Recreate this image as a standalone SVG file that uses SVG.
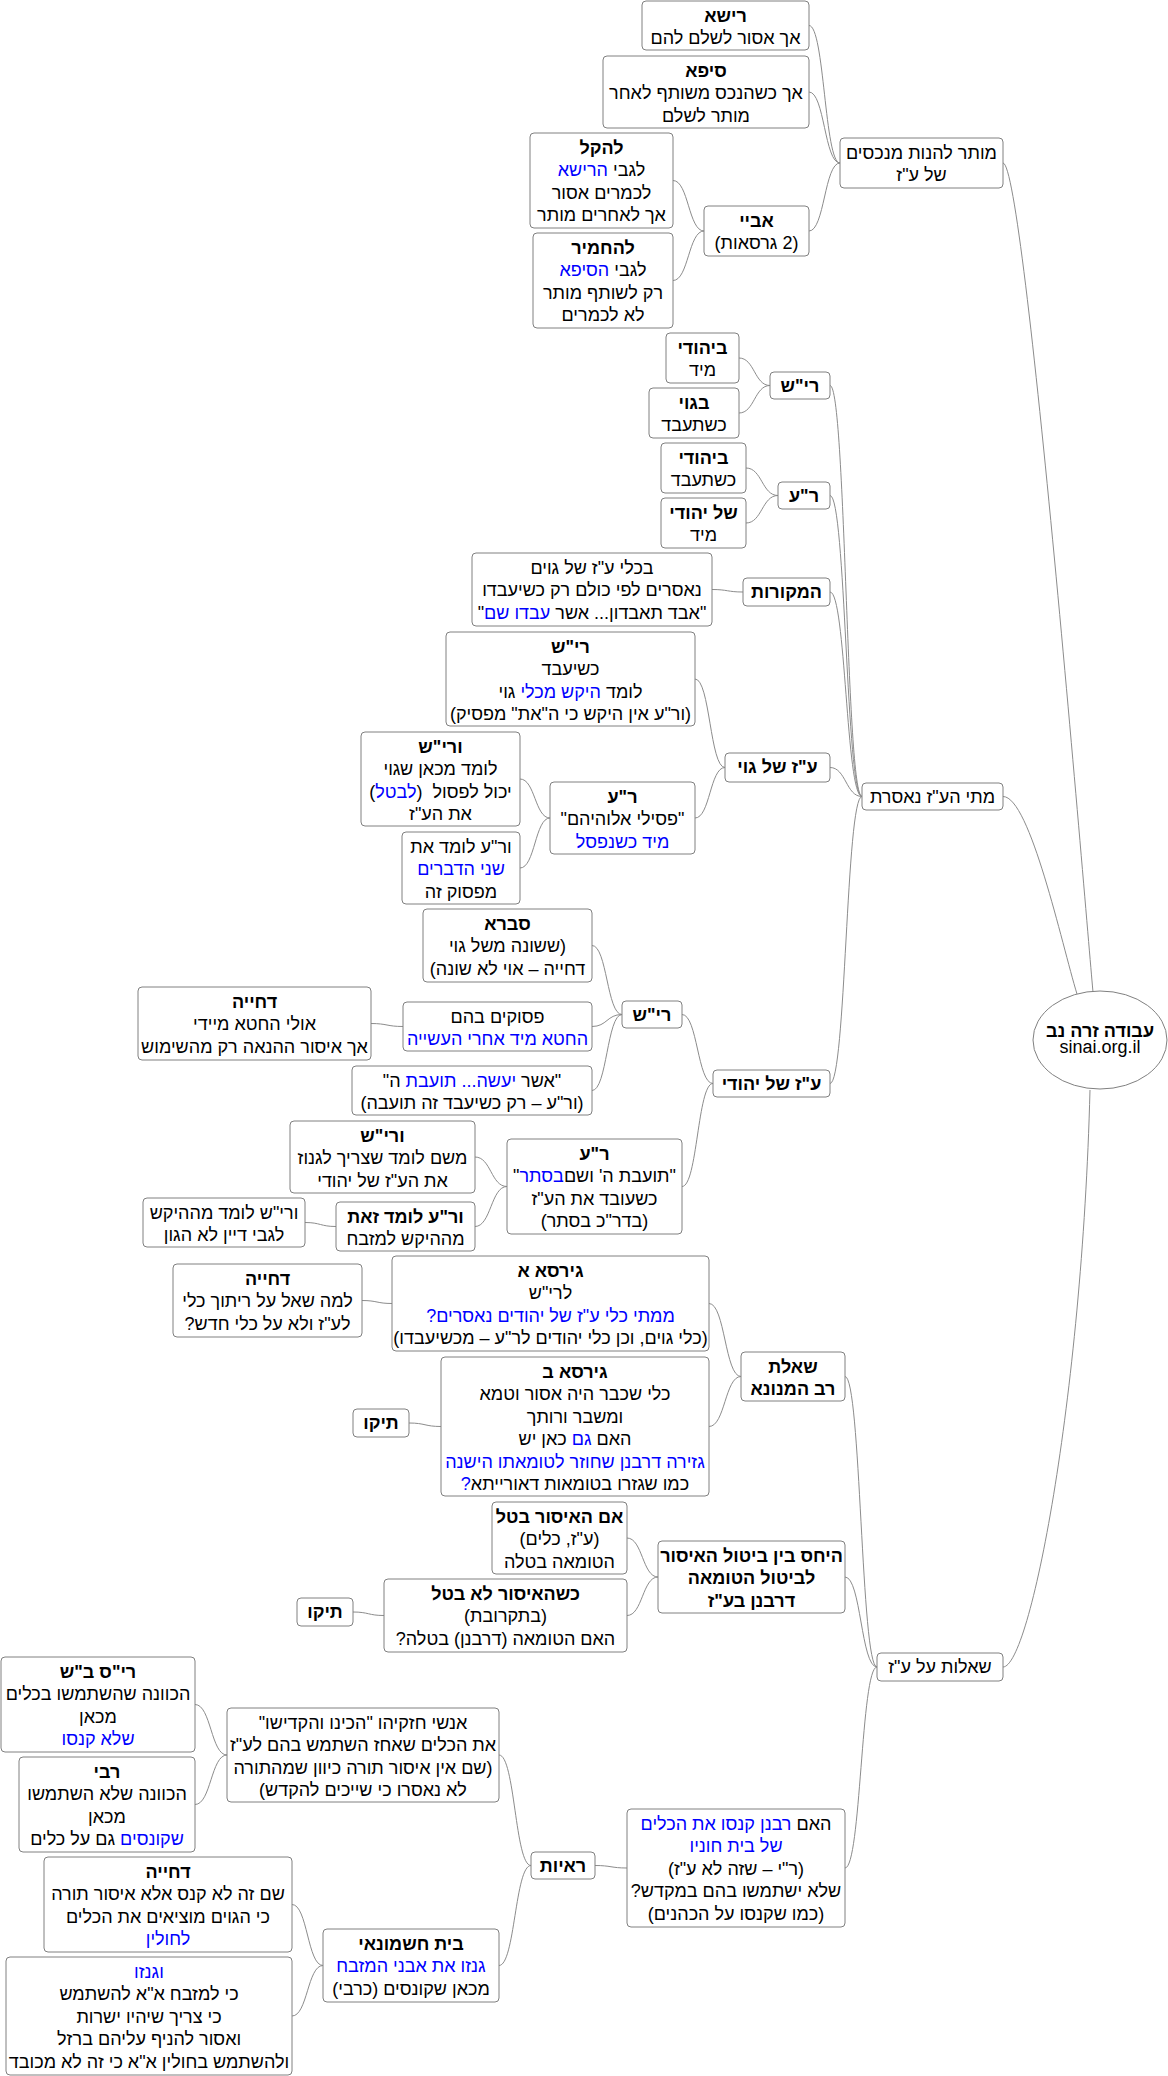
<svg xmlns="http://www.w3.org/2000/svg" width="1168" height="2076" viewBox="0 0 1168 2076">
<style>
.nd rect{fill:#fff;stroke:#808080;stroke-width:1}
.nd ellipse{fill:#fff;stroke:#808080;stroke-width:1}
text{font-family:"Liberation Sans",Arial,"DejaVu Sans",sans-serif;font-size:18px;fill:#000;direction:rtl;text-anchor:middle}
.b{font-weight:bold}
.bl{fill:#0000ff}
.cn path{fill:none;stroke:#8c8c8c;stroke-width:1}
</style>
<rect x="0" y="0" width="1168" height="2076" fill="#fff"/>
<g class="cn" id="connectors">
<path d="M1003,163 C1025,163 1088,940 1093,992"/>
<path d="M1003,796.5 C1030,796.5 1062,945 1077,994"/>
<path d="M1003,1667 C1030,1667 1082,1400 1090,1090"/>
<path d="M809,25.5 C824.5,25.5 824.5,163 840,163"/>
<path d="M809,92 C824.5,92 824.5,163 840,163"/>
<path d="M809,231 C824.5,231 824.5,163 840,163"/>
<path d="M673,180.5 C688.5,180.5 688.5,231 704,231"/>
<path d="M673,280.5 C688.5,280.5 688.5,231 704,231"/>
<path d="M830,385.5 C846,385.5 846,796.5 862,796.5"/>
<path d="M830,495.5 C846,495.5 846,796.5 862,796.5"/>
<path d="M830,592 C846,592 846,796.5 862,796.5"/>
<path d="M830,767.5 C846,767.5 846,796.5 862,796.5"/>
<path d="M830,1083.5 C846,1083.5 846,796.5 862,796.5"/>
<path d="M739,358 C754.5,358 754.5,385.5 770,385.5"/>
<path d="M739,413 C754.5,413 754.5,385.5 770,385.5"/>
<path d="M746,468 C762,468 762,495.5 778,495.5"/>
<path d="M746,523 C762,523 762,495.5 778,495.5"/>
<path d="M712,589.5 C727.5,589.5 727.5,592 743,592"/>
<path d="M695,679 C710,679 710,767.5 725,767.5"/>
<path d="M695,818 C710,818 710,767.5 725,767.5"/>
<path d="M520,779 C535,779 535,818 550,818"/>
<path d="M520,868 C535,868 535,818 550,818"/>
<path d="M682,1014.5 C697.5,1014.5 697.5,1083.5 713,1083.5"/>
<path d="M682,1186.5 C697.5,1186.5 697.5,1083.5 713,1083.5"/>
<path d="M592,945.5 C607,945.5 607,1014.5 622,1014.5"/>
<path d="M592,1026.5 C607,1026.5 607,1014.5 622,1014.5"/>
<path d="M592,1090.5 C607,1090.5 607,1014.5 622,1014.5"/>
<path d="M371,1023.5 C387,1023.5 387,1026.5 403,1026.5"/>
<path d="M475,1157 C491,1157 491,1186.5 507,1186.5"/>
<path d="M475,1226.5 C491,1226.5 491,1186.5 507,1186.5"/>
<path d="M305,1222.5 C320.5,1222.5 320.5,1226.5 336,1226.5"/>
<path d="M845,1376.5 C861,1376.5 861,1667 877,1667"/>
<path d="M845,1577 C861,1577 861,1667 877,1667"/>
<path d="M845,1868 C861,1868 861,1667 877,1667"/>
<path d="M709,1303.5 C725,1303.5 725,1376.5 741,1376.5"/>
<path d="M709,1426.5 C725,1426.5 725,1376.5 741,1376.5"/>
<path d="M362,1300.5 C377,1300.5 377,1303.5 392,1303.5"/>
<path d="M409,1423 C425,1423 425,1426.5 441,1426.5"/>
<path d="M627,1538 C642.5,1538 642.5,1577 658,1577"/>
<path d="M627,1615.5 C642.5,1615.5 642.5,1577 658,1577"/>
<path d="M353,1612 C368.5,1612 368.5,1615.5 384,1615.5"/>
<path d="M595,1865.5 C611,1865.5 611,1868 627,1868"/>
<path d="M499,1755 C515,1755 515,1865.5 531,1865.5"/>
<path d="M499,1965.5 C515,1965.5 515,1865.5 531,1865.5"/>
<path d="M195,1704.5 C211,1704.5 211,1755 227,1755"/>
<path d="M195,1804.5 C211,1804.5 211,1755 227,1755"/>
<path d="M292,1904.5 C307.5,1904.5 307.5,1965.5 323,1965.5"/>
<path d="M292,2016 C307.5,2016 307.5,1965.5 323,1965.5"/>
</g>

<g class="nd" id="root"><ellipse cx="1100" cy="1040" rx="67" ry="49"/><text class="b" x="1100" y="1037">עבודה זרה נב</text><text x="1100" y="1053">sinai.org.il</text></g>

<g class="nd" id="a6"><rect x="840" y="138" width="163" height="50" rx="4"/><text x="921.5" y="158.5">מותר להנות מנכסים</text><text x="921.5" y="181">של ע"ז</text></g>
<g class="nd" id="a1"><rect x="642" y="1" width="167" height="49" rx="4"/><text class="b" x="725.5" y="21.5">רישא</text><text x="725.5" y="44">אך אסור לשלם להם</text></g>
<g class="nd" id="a2"><rect x="603" y="56" width="206" height="72" rx="4"/><text class="b" x="706" y="76.5">סיפא</text><text x="706" y="99">אך כשהנכס משותף לאחר</text><text x="706" y="121.5">מותר לשלם</text></g>
<g class="nd" id="a5"><rect x="704" y="206" width="105" height="50" rx="4"/><text class="b" x="756.5" y="226.5">אביי</text><text x="756.5" y="249">(2 גרסאות)</text></g>
<g class="nd" id="a3"><rect x="530" y="133" width="143" height="95" rx="4"/><text class="b" x="601.5" y="153.5">להקל</text><text x="601.5" y="176">לגבי <tspan class="bl">הרישא</tspan></text><text x="601.5" y="198.5">לכמרים אסור</text><text x="601.5" y="221">אך לאחרים מותר</text></g>
<g class="nd" id="a4"><rect x="533" y="233" width="140" height="95" rx="4"/><text class="b" x="603" y="253.5">להחמיר</text><text x="603" y="276">לגבי <tspan class="bl">הסיפא</tspan></text><text x="603" y="298.5">רק לשותף מותר</text><text x="603" y="321">לא לכמרים</text></g>

<g class="nd" id="b0"><rect x="862" y="783" width="141" height="27" rx="4"/><text x="932.5" y="803">מתי הע"ז נאסרת</text></g>
<g class="nd" id="b1"><rect x="770" y="372" width="60" height="27" rx="4"/><text class="b" x="800" y="392">רי"ש</text></g>
<g class="nd" id="b2"><rect x="666" y="333" width="73" height="50" rx="4"/><text class="b" x="702.5" y="353.5">ביהודי</text><text x="702.5" y="376">מיד</text></g>
<g class="nd" id="b3"><rect x="649" y="388" width="90" height="50" rx="4"/><text class="b" x="694" y="408.5">בגוי</text><text x="694" y="431">כשתעבד</text></g>
<g class="nd" id="b4"><rect x="778" y="482" width="52" height="27" rx="4"/><text class="b" x="804" y="502">ר"ע</text></g>
<g class="nd" id="b5"><rect x="661" y="443" width="85" height="50" rx="4"/><text class="b" x="703.5" y="463.5">ביהודי</text><text x="703.5" y="486">כשתעבד</text></g>
<g class="nd" id="b6"><rect x="661" y="498" width="85" height="50" rx="4"/><text class="b" x="703.5" y="518.5">של יהודי</text><text x="703.5" y="541">מיד</text></g>
<g class="nd" id="b7"><rect x="743" y="578" width="87" height="28" rx="4"/><text class="b" x="786.5" y="598">המקורות</text></g>
<g class="nd" id="b8"><rect x="472" y="553" width="240" height="73" rx="4"/><text x="592" y="573.5">בכלי ע"ז של גוים</text><text x="592" y="596">נאסרים לפי כולם רק כשיעבדו</text><text x="592" y="618.5">"אבד תאבדון... אשר <tspan class="bl">עבדו שם</tspan>"</text></g>
<g class="nd" id="b9"><rect x="725" y="753" width="105" height="29" rx="4"/><text class="b" x="777.5" y="773">ע"ז של גוי</text></g>
<g class="nd" id="b10"><rect x="446" y="632" width="249" height="94" rx="4"/><text class="b" x="570.5" y="652.5">רי"ש</text><text x="570.5" y="675">כשיעבד</text><text x="570.5" y="697.5">לומד <tspan class="bl">היקש מכלי</tspan> גוי</text><text x="570.5" y="720">(ור"ע אין היקש כי ה"את" מפסיק)</text></g>
<g class="nd" id="b11"><rect x="550" y="782" width="145" height="72" rx="4"/><text class="b" x="622.5" y="802.5">ר"ע</text><text x="622.5" y="825">"פסילי אלוהיהם"</text><text class="bl" x="622.5" y="847.5">מיד כשנפסל</text></g>
<g class="nd" id="b12"><rect x="361" y="732" width="159" height="94" rx="4"/><text class="b" x="440.5" y="752.5">ורי"ש</text><text x="440.5" y="775">לומד מכאן שגוי</text><text x="440.5" y="797.5">יכול לפסול&#160; (<tspan class="bl">לבטל</tspan>)</text><text x="440.5" y="820">את הע"ז</text></g>
<g class="nd" id="b13"><rect x="402" y="832" width="118" height="72" rx="4"/><text x="461" y="852.5">ור"ע לומד את</text><text class="bl" x="461" y="875">שני הדברים</text><text x="461" y="897.5">מפסוק זה</text></g>
<g class="nd" id="b14"><rect x="713" y="1070" width="117" height="27" rx="4"/><text class="b" x="771.5" y="1090">ע"ז של יהודי</text></g>
<g class="nd" id="b15"><rect x="622" y="1001" width="60" height="27" rx="4"/><text class="b" x="652" y="1021">רי"ש</text></g>
<g class="nd" id="b16"><rect x="423" y="909" width="169" height="73" rx="4"/><text class="b" x="507.5" y="929.5">סברא</text><text x="507.5" y="952">(ששונה משל גוי</text><text x="507.5" y="974.5">דחייה – אוי לא שונה)</text></g>
<g class="nd" id="b17"><rect x="403" y="1002" width="189" height="49" rx="4"/><text x="497.5" y="1022.5">פסוקים בהם</text><text class="bl" x="497.5" y="1045">החטא מיד אחרי העשייה</text></g>
<g class="nd" id="b18"><rect x="138" y="987" width="233" height="73" rx="4"/><text class="b" x="254.5" y="1007.5">דחייה</text><text x="254.5" y="1030">אולי החטא מיידי</text><text x="254.5" y="1052.5">אך איסור ההנאה רק מהשימוש</text></g>
<g class="nd" id="b19"><rect x="352" y="1066" width="240" height="49" rx="4"/><text x="472" y="1086.5">"אשר <tspan class="bl">יעשה...</tspan> <tspan class="bl">תועבת</tspan> ה"</text><text x="472" y="1109">(ור"ע – רק כשיעבד זה תועבה)</text></g>
<g class="nd" id="b20"><rect x="507" y="1139" width="175" height="95" rx="4"/><text class="b" x="594.5" y="1159.5">ר"ע</text><text x="594.5" y="1182">"תועבת ה' ושם<tspan class="bl">בסתר</tspan>"</text><text x="594.5" y="1204.5">כשעובד את הע"ז</text><text x="594.5" y="1227">(בדר"כ בסתר)</text></g>
<g class="nd" id="b21"><rect x="290" y="1121" width="185" height="72" rx="4"/><text class="b" x="382.5" y="1141.5">ורי"ש</text><text x="382.5" y="1164">משם לומד שצריך לגנוז</text><text x="382.5" y="1186.5">את הע"ז של יהודי</text></g>
<g class="nd" id="b22"><rect x="336" y="1202" width="139" height="49" rx="4"/><text class="b" x="405.5" y="1222.5">ור"ע לומד זאת</text><text x="405.5" y="1245">מההיקש למזבח</text></g>
<g class="nd" id="b23"><rect x="143" y="1198" width="162" height="49" rx="4"/><text x="224" y="1218.5">ורי"ש לומד מההיקש</text><text x="224" y="1241">לגבי דיין לא הגון</text></g>

<g class="nd" id="c0"><rect x="877" y="1653" width="126" height="28" rx="4"/><text x="940" y="1673">שאלות על ע"ז</text></g>
<g class="nd" id="c1"><rect x="741" y="1352" width="104" height="49" rx="4"/><text class="b" x="793" y="1372.5">שאלת</text><text class="b" x="793" y="1395">רב המנונא</text></g>
<g class="nd" id="c2"><rect x="392" y="1256" width="317" height="95" rx="4"/><text class="b" x="550.5" y="1276.5">גירסא א</text><text x="550.5" y="1299">לרי"ש</text><text class="bl" x="550.5" y="1321.5">ממתי כלי ע"ז של יהודים נאסרים?</text><text x="550.5" y="1344">(כלי גוים, וכן כלי יהודים לר"ע – מכשיעבדו)</text></g>
<g class="nd" id="c3"><rect x="173" y="1264" width="189" height="73" rx="4"/><text class="b" x="267.5" y="1284.5">דחייה</text><text x="267.5" y="1307">למה שאל על ריתוך כלי</text><text x="267.5" y="1329.5">לע"ז ולא על כלי חדש?</text></g>
<g class="nd" id="c4"><rect x="441" y="1357" width="268" height="139" rx="4"/><text class="b" x="575" y="1377.5">גירסא ב</text><text x="575" y="1400">כלי שכבר היה אסור וטמא</text><text x="575" y="1422.5">ומשבר ורותך</text><text x="575" y="1445">האם <tspan class="bl">גם</tspan> כאן יש</text><text class="bl" x="575" y="1467.5">גזירה דרבנן שחוזר לטומאתו הישנה</text><text x="575" y="1490">כמו שגזרו בטומאות דאורייתא<tspan class="bl">?</tspan></text></g>
<g class="nd" id="c5"><rect x="353" y="1409" width="56" height="28" rx="4"/><text class="b" x="381" y="1429">תיקו</text></g>
<g class="nd" id="c6"><rect x="658" y="1541" width="187" height="72" rx="4"/><text class="b" x="751.5" y="1561.5">היחס בין ביטול האיסור</text><text class="b" x="751.5" y="1584">לביטול הטומאה</text><text class="b" x="751.5" y="1606.5">דרבנן בע"ז</text></g>
<g class="nd" id="c7"><rect x="492" y="1502" width="135" height="72" rx="4"/><text class="b" x="559.5" y="1522.5">אם האיסור בטל</text><text x="559.5" y="1545">(ע"ז, כלים)</text><text x="559.5" y="1567.5">הטומאה בטלה</text></g>
<g class="nd" id="c8"><rect x="384" y="1579" width="243" height="73" rx="4"/><text class="b" x="505.5" y="1599.5">כשהאיסור לא בטל</text><text x="505.5" y="1622">(בתקרובת)</text><text x="505.5" y="1644.5">האם הטומאה (דרבנן) בטלה?</text></g>
<g class="nd" id="c9"><rect x="297" y="1598" width="56" height="28" rx="4"/><text class="b" x="325" y="1618">תיקו</text></g>
<g class="nd" id="c10"><rect x="627" y="1809" width="218" height="118" rx="4"/><text x="736" y="1829.5">האם <tspan class="bl">רבנן קנסו את הכלים</tspan></text><text class="bl" x="736" y="1852">של בית חוניו</text><text x="736" y="1874.5">(ר"י – שזה לא ע"ז)</text><text x="736" y="1897">שלא ישתמשו בהם במקדש?</text><text x="736" y="1919.5">(כמו שקנסו על הכהנים)</text></g>
<g class="nd" id="c11"><rect x="531" y="1852" width="64" height="27" rx="4"/><text class="b" x="563" y="1872">ראיות</text></g>
<g class="nd" id="c12"><rect x="227" y="1708" width="272" height="94" rx="4"/><text x="363" y="1728.5">אנשי חזקיהו "הכינו והקדישו"</text><text x="363" y="1751">את הכלים שאחז השתמש בהם לע"ז</text><text x="363" y="1773.5">(שם אין איסור תורה כיוון שמהתורה</text><text x="363" y="1796">לא נאסרו כי שייכים להקדש)</text></g>
<g class="nd" id="c13"><rect x="1" y="1657" width="194" height="95" rx="4"/><text class="b" x="98" y="1677.5">רי"ס ב"ש</text><text x="98" y="1700">הכוונה שהשתמשו בכלים</text><text x="98" y="1722.5">מכאן</text><text class="bl" x="98" y="1745">שלא קנסו</text></g>
<g class="nd" id="c14"><rect x="19" y="1757" width="176" height="95" rx="4"/><text class="b" x="107" y="1777.5">רבי</text><text x="107" y="1800">הכוונה שלא השתמשו</text><text x="107" y="1822.5">מכאן</text><text x="107" y="1845"><tspan class="bl">שקונסים</tspan> גם על כלים</text></g>
<g class="nd" id="c15"><rect x="323" y="1929" width="176" height="73" rx="4"/><text class="b" x="411" y="1949.5">בית חשמונאי</text><text class="bl" x="411" y="1972">גנזו את אבני המזבח</text><text x="411" y="1994.5">מכאן שקונסים (כרבי)</text></g>
<g class="nd" id="c16"><rect x="44" y="1857" width="248" height="95" rx="4"/><text class="b" x="168" y="1877.5">דחייה</text><text x="168" y="1900">שם זה לא קנס אלא איסור תורה</text><text x="168" y="1922.5">כי הגוים מוציאים את הכלים</text><text class="bl" x="168" y="1945">לחולין</text></g>
<g class="nd" id="c17"><rect x="6" y="1957" width="286" height="118" rx="4"/><text class="bl" x="149" y="1977.5">וגנזו</text><text x="149" y="2000">כי למזבח א"א להשתמש</text><text x="149" y="2022.5">כי צריך שיהיו ישרות</text><text x="149" y="2045">ואסור להניף עליהם ברזל</text><text x="149" y="2067.5">ולהשתמש בחולין א"א כי זה לא מכובד</text></g>
</svg>
